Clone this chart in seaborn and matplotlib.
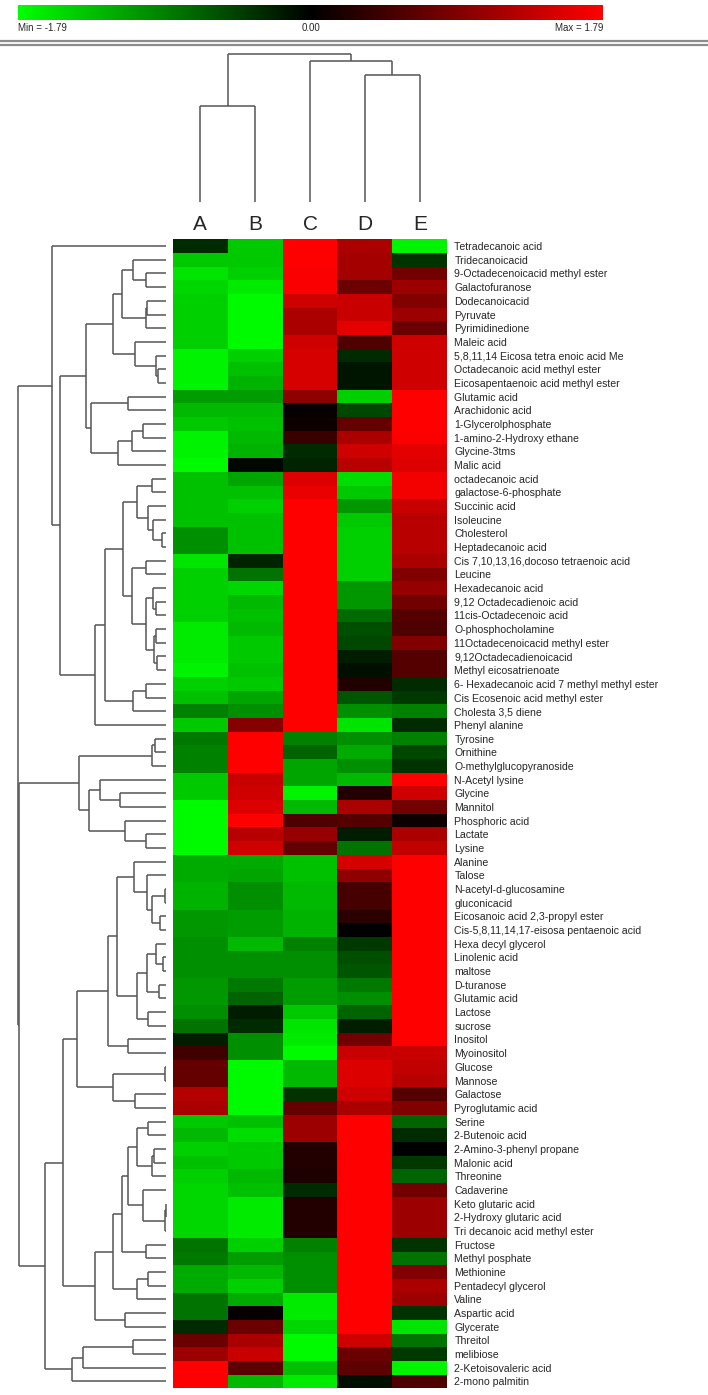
import numpy as np
import pandas as pd
import seaborn as sns
import matplotlib
matplotlib.use("Agg")
import matplotlib.pyplot as plt
from matplotlib.colors import LinearSegmentedColormap
from matplotlib.lines import Line2D

# ---------------- data ----------------
metabolites = [
    "Tetradecanoic acid", "Tridecanoicacid", "9-Octadecenoicacid methyl ester", "Galactofuranose",
    "Dodecanoicacid", "Pyruvate", "Pyrimidinedione", "Maleic acid",
    "5,8,11,14 Eicosa tetra enoic acid Me", "Octadecanoic acid methyl ester",
    "Eicosapentaenoic acid methyl ester", "Glutamic acid", "Arachidonic acid", "1-Glycerolphosphate",
    "1-amino-2-Hydroxy ethane", "Glycine-3tms", "Malic acid", "octadecanoic acid",
    "galactose-6-phosphate", "Succinic acid", "Isoleucine", "Cholesterol", "Heptadecanoic acid",
    "Cis 7,10,13,16,docoso tetraenoic acid", "Leucine", "Hexadecanoic acid",
    "9,12 Octadecadienoic acid", "11cis-Octadecenoic acid", "O-phosphocholamine",
    "11Octadecenoicacid methyl ester", "9,12Octadecadienoicacid", "Methyl eicosatrienoate",
    "6- Hexadecanoic acid 7 methyl methyl ester", "Cis Ecosenoic acid methyl ester",
    "Cholesta 3,5 diene", "Phenyl alanine", "Tyrosine", "Ornithine", "O-methylglucopyranoside",
    "N-Acetyl lysine", "Glycine", "Mannitol", "Phosphoric acid", "Lactate", "Lysine", "Alanine",
    "Talose", "N-acetyl-d-glucosamine", "gluconicacid", "Eicosanoic acid 2,3-propyl ester",
    "Cis-5,8,11,14,17-eisosa pentaenoic acid", "Hexa decyl glycerol", "Linolenic acid", "maltose",
    "D-turanose", "Glutamic acid", "Lactose", "sucrose", "Inositol", "Myoinositol", "Glucose",
    "Mannose", "Galactose", "Pyroglutamic acid", "Serine", "2-Butenoic acid",
    "2-Amino-3-phenyl propane", "Malonic acid", "Threonine", "Cadaverine", "Keto glutaric acid",
    "2-Hydroxy glutaric acid", "Tri decanoic acid methyl ester", "Fructose", "Methyl posphate",
    "Methionine", "Pentadecyl glycerol", "Valine", "Aspartic acid", "Glycerate", "Threitol",
    "melibiose", "2-Ketoisovaleric acid", "2-mono palmitin",
]
samples = ["A", "B", "C", "D", "E"]

val_A = [-0.3, -1.4, -1.6, -1.5, -1.45, -1.45, -1.45, -1.45, -1.7, -1.7, -1.7, -1.1, -1.3, -1.4,
         -1.7, -1.7, -1.75, -1.35, -1.35, -1.35, -1.35, -1.0, -1.0, -1.6, -1.45, -1.45, -1.45,
         -1.45, -1.65, -1.65, -1.65, -1.7, -1.45, -1.35, -0.9, -1.4, -0.85, -0.9, -0.9, -1.4,
         -1.4, -1.75, -1.75, -1.75, -1.75, -1.2, -1.2, -1.25, -1.25, -1.05, -1.05, -1.0, -1.0,
         -1.0, -1.05, -1.05, -1.0, -0.8, -0.2, 0.45, 0.7, 0.7, 1.25, 1.2, -1.4, -1.3, -1.45,
         -1.35, -1.45, -1.5, -1.5, -1.5, -1.5, -0.8, -0.85, -1.2, -1.2, -0.8, -0.8, -0.3, 0.75,
         1.1, 1.79, 1.79]
val_B = [-1.4, -1.4, -1.45, -1.65, -1.75, -1.75, -1.75, -1.75, -1.45, -1.35, -1.25, -1.1, -1.3,
         -1.35, -1.3, -1.25, -0.05, -1.15, -1.35, -1.45, -1.35, -1.35, -1.35, -0.25, -0.8, -1.5,
         -1.3, -1.35, -1.3, -1.4, -1.4, -1.35, -1.4, -1.15, -1.0, 0.95, 1.79, 1.79, 1.79, 1.4,
         1.45, 1.55, 1.79, 1.3, 1.45, -1.2, -1.15, -1.0, -1.0, -1.1, -1.1, -1.3, -1.0, -1.0,
         -0.85, -0.7, -0.2, -0.3, -1.0, -1.0, -1.75, -1.75, -1.75, -1.75, -1.35, -1.55, -1.4,
         -1.4, -1.3, -1.35, -1.65, -1.65, -1.65, -1.45, -1.1, -1.3, -1.45, -1.2, 0.05, 0.75,
         1.2, 1.4, 0.65, -1.3]
val_C = [1.79, 1.79, 1.75, 1.75, 1.45, 1.2, 1.2, 1.45, 1.5, 1.5, 1.5, 1.0, 0.05, 0.1, 0.4, -0.3,
         -0.25, 1.55, 1.65, 1.79, 1.79, 1.79, 1.79, 1.79, 1.79, 1.79, 1.79, 1.79, 1.79, 1.79,
         1.79, 1.79, 1.79, 1.79, 1.79, 1.79, -0.9, -0.7, -1.15, -1.15, -1.7, -1.3, 0.55, 1.05,
         0.7, -1.35, -1.35, -1.3, -1.3, -1.25, -1.25, -0.9, -1.0, -1.0, -1.1, -1.1, -1.4, -1.6,
         -1.65, -1.75, -1.3, -1.3, -0.35, 0.7, 1.1, 1.1, 0.25, 0.25, 0.2, -0.3, 0.25, 0.25, 0.25,
         -0.9, -1.0, -1.0, -1.0, -1.65, -1.65, -1.5, -1.75, -1.75, -1.35, -1.65]
val_D = [1.2, 1.15, 1.15, 0.75, 1.4, 1.4, 1.6, 0.55, -0.3, -0.15, -0.15, -1.45, -0.5, 0.7, 1.2,
         1.45, 1.3, -1.55, -1.4, -1.05, -1.4, -1.45, -1.45, -1.45, -1.45, -1.05, -1.05, -0.75,
         -0.55, -0.5, -0.2, -0.1, 0.25, -0.6, -1.0, -1.6, -1.0, -1.2, -1.0, -1.3, 0.25, 1.2, 0.6,
         -0.2, -0.8, 1.5, 1.0, 0.5, 0.5, 0.3, 0.0, -0.4, -0.55, -0.6, -0.85, -1.0, -0.7, -0.2,
         0.8, 1.4, 1.55, 1.55, 1.45, 1.2, 1.79, 1.79, 1.79, 1.79, 1.79, 1.79, 1.79, 1.79, 1.79,
         1.79, 1.79, 1.79, 1.79, 1.79, 1.79, 1.79, 1.45, 0.75, 0.65, -0.1]
val_E = [-1.7, -0.35, 0.8, 1.1, 0.9, 1.1, 0.75, 1.45, 1.45, 1.45, 1.45, 1.79, 1.79, 1.79, 1.75,
         1.6, 1.55, 1.7, 1.7, 1.4, 1.3, 1.3, 1.3, 1.2, 0.9, 1.05, 0.8, 0.6, 0.55, 0.9, 0.6, 0.6,
         -0.3, -0.4, -0.9, -0.3, -0.9, -0.5, -0.35, 1.79, 1.45, 0.8, 0.1, 1.2, 1.35, 1.79, 1.79,
         1.79, 1.79, 1.79, 1.79, 1.79, 1.79, 1.79, 1.79, 1.79, 1.79, 1.79, 1.79, 1.4, 1.35, 1.3,
         0.6, 0.9, -0.7, -0.3, 0.0, -0.4, -0.7, 0.8, 1.1, 1.1, 1.1, -0.35, -0.8, 0.9, 1.2, 1.1,
         -0.35, -1.6, -0.8, -0.4, -1.7, 0.55]

vmin, vmax = -1.79, 1.79

# column dendrogram: node -> (height, left, right)
col_tree = {
    "AB": (96.6, "A", "B"),
    "DE": (127.3, "D", "E"),
    "CDE": (141.3, "C", "DE"),
    "root": (148.3, "AB", "CDE"),
}

# row dendrogram: node -> (height, left, right); ints are row numbers (1-based)
row_tree = {
    "n3_4": (60, 3, 4), "n2_4": (97, 2, "n3_4"),
    "n5_6": (56, 5, 6), "n5_7": (60, "n5_6", 7), "n2_7": (132, "n2_4", "n5_7"),
    "n10_11": (24, 10, 11), "n9_11": (30, 9, "n10_11"), "n8_11": (92, 8, "n9_11"),
    "n2_11": (157, "n2_7", "n8_11"),
    "n12_13": (114, 12, 13), "n14_15": (67, 14, 15), "n14_16": (102, "n14_15", 16),
    "n14_17": (142, "n14_16", 17), "n12_17": (224, "n12_13", "n14_17"),
    "n2_17": (239, "n2_11", "n12_17"),
    "n18_19": (42, 18, 19), "n22_23": (10, 22, 23), "n21_23": (37, 21, "n22_23"),
    "n20_23": (52, 20, "n21_23"), "n18_23": (87, "n18_19", "n20_23"),
    "n24_25": (60, 24, 25), "n27_28": (30, 27, 28), "n26_28": (37, 26, "n27_28"),
    "n29_30": (30, 29, 30), "n31_32": (27, 31, 32), "n29_32": (34, "n29_30", "n31_32"),
    "n26_32": (60, "n26_28", "n29_32"), "n24_32": (102, "n24_25", "n26_32"),
    "n18_32": (127, "n18_23", "n24_32"),
    "n33_34": (60, 33, 34), "n33_35": (97, "n33_34", 35),
    "n18_35": (182, "n18_32", "n33_35"), "n18_36": (212, "n18_35", 36),
    "n2_36": (317, "n2_17", "n18_36"), "n1_36": (342, 1, "n2_36"),
    "n37_38": (32, 37, 38), "n37_39": (42, "n37_38", 39),
    "n41_42": (137, 41, 42), "n40_42": (197, 40, "n41_42"),
    "n44_45": (60, 44, 45), "n43_45": (122, 43, "n44_45"),
    "n40_45": (229, "n40_42", "n43_45"), "n37_45": (260, "n37_39", "n40_45"),
    "n48_49": (2, 48, 49), "n50_51": (17, 50, 51), "n48_51": (42, "n48_49", "n50_51"),
    "n47_51": (55, 47, "n48_51"), "n46_51": (95, 46, "n47_51"),
    "n53_54": (7, 53, 54), "n52_54": (30, 52, "n53_54"), "n55_56": (19, 55, 56),
    "n52_56": (57, "n52_54", "n55_56"), "n57_58": (52, 57, 58),
    "n52_58": (87, "n52_56", "n57_58"), "n46_58": (147, "n46_51", "n52_58"),
    "n59_60": (112, 59, 60), "n46_60": (172, "n46_58", "n59_60"),
    "n61_62": (1, 61, 62), "n63_64": (92, 63, 64), "n61_64": (157, "n61_62", "n63_64"),
    "n46_64": (265, "n46_60", "n61_64"),
    "n65_66": (52, 65, 66), "n67_68": (35, 67, 68), "n67_69": (42, "n67_68", 69),
    "n65_69": (87, "n65_66", "n67_69"),
    "n71_72": (0.5, 71, 72), "n71_73": (1, "n71_72", 73), "n70_73": (69, 70, "n71_73"),
    "n65_73": (112, "n65_69", "n70_73"), "n74_75": (60, 74, 75),
    "n65_75": (132, "n65_73", "n74_75"), "n76_77": (52, 76, 77), "n76_78": (87, "n76_77", 78),
    "n65_78": (157, "n65_75", "n76_78"), "n79_80": (122, 79, 80),
    "n65_80": (212, "n65_78", "n79_80"), "n46_80": (307, "n46_64", "n65_80"),
    "n81_82": (97, 81, 82), "n81_83": (247, "n81_82", 83), "n81_84": (282, "n81_83", 84),
    "n46_84": (362, "n46_80", "n81_84"), "n37_84": (441, "n37_45", "n46_84"),
    "root": (444, "n1_36", "n37_84"),
}

# ---------------- figure ----------------
sns.set_theme(style="white")
plt.rcParams["font.family"] = ["Liberation Sans", "DejaVu Sans"]

W, H = 708, 1395
fig = plt.figure(figsize=(W / 100, H / 100), dpi=100)
fig.patch.set_facecolor("white")


def rect(x0, y0, x1, y1):
    return [x0 / W, 1 - y1 / H, (x1 - x0) / W, (y1 - y0) / H]


df = pd.DataFrame({"A": val_A, "B": val_B, "C": val_C, "D": val_D, "E": val_E},
                  index=metabolites)[samples]
cmap = LinearSegmentedColormap.from_list("gkr", [(0, 1, 0), (0, 0, 0), (1, 0, 0)])

hm_ax = fig.add_axes(rect(172.7, 239.3, 447.3, 1388.3))
cb_ax = fig.add_axes(rect(18, 5, 603, 20))
sns.heatmap(df, cmap=cmap, vmin=vmin, vmax=vmax, ax=hm_ax, cbar_ax=cb_ax,
            cbar_kws={"orientation": "horizontal"}, xticklabels=True, yticklabels=True)
hm_ax.set_xlabel("")
hm_ax.set_ylabel("")
hm_ax.yaxis.tick_right()
hm_ax.tick_params(axis="y", right=True, left=False, length=0, pad=5, labelsize=7.6,
                  labelright=True, labelleft=False)
for t in hm_ax.get_yticklabels():
    t.set_rotation(0)
    t.set_ha("left")
hm_ax.xaxis.tick_top()
hm_ax.tick_params(axis="x", top=True, bottom=False, length=0, pad=4, labelsize=15,
                  labeltop=True, labelbottom=False)

cbar = hm_ax.collections[0].colorbar
cbar.outline.set_visible(False)
cb_ax.set_xticks([])
cb_ax.set_yticks([])

fig.text(18 / W, 1 - 28 / H, f"Min = {vmin:.2f}", fontsize=7, ha="left", va="center")
fig.text(310.5 / W, 1 - 28 / H, f"{(vmin + vmax) / 2:.2f}", fontsize=7, ha="center", va="center")
fig.text(603 / W, 1 - 28 / H, f"Max = {vmax:.2f}", fontsize=7, ha="right", va="center")
for yy in (41, 45):
    fig.add_artist(Line2D([0, 1], [1 - yy / H] * 2, color="#8c8c8c", lw=1.6,
                          transform=fig.transFigure))

line_kw = dict(color="#555555", lw=1.1, solid_capstyle="butt")


def draw(tree, node, ax, leaf_pos, horizontal):
    if node not in tree:
        return leaf_pos(node), 0.0
    h, l, r = tree[node]
    pl, hl = draw(tree, l, ax, leaf_pos, horizontal)
    pr, hr = draw(tree, r, ax, leaf_pos, horizontal)
    if horizontal:
        ax.plot([hl, h], [pl, pl], **line_kw)
        ax.plot([hr, h], [pr, pr], **line_kw)
        ax.plot([h, h], [pl, pr], **line_kw)
    else:
        ax.plot([pl, pl], [hl, h], **line_kw)
        ax.plot([pr, pr], [hr, h], **line_kw)
        ax.plot([pl, pr], [h, h], **line_kw)
    return (pl + pr) / 2, h


# row dendrogram
rd_ax = fig.add_axes(rect(0, 239.3, 172.7, 1388.3))
draw(row_tree, "root", rd_ax, lambda k: k - 0.5, True)
rd_ax.set_xlim(497, -21)
rd_ax.set_ylim(len(metabolites), 0)
rd_ax.axis("off")

# column dendrogram
cd_ax = fig.add_axes(rect(172.7, 50, 447.3, 202.3))
draw(col_tree, "root", cd_ax, lambda s: samples.index(s) + 0.5, False)
cd_ax.set_xlim(0, len(samples))
cd_ax.set_ylim(0, 152.3)
cd_ax.axis("off")

fig.savefig("out.png", dpi=100, facecolor="white")
